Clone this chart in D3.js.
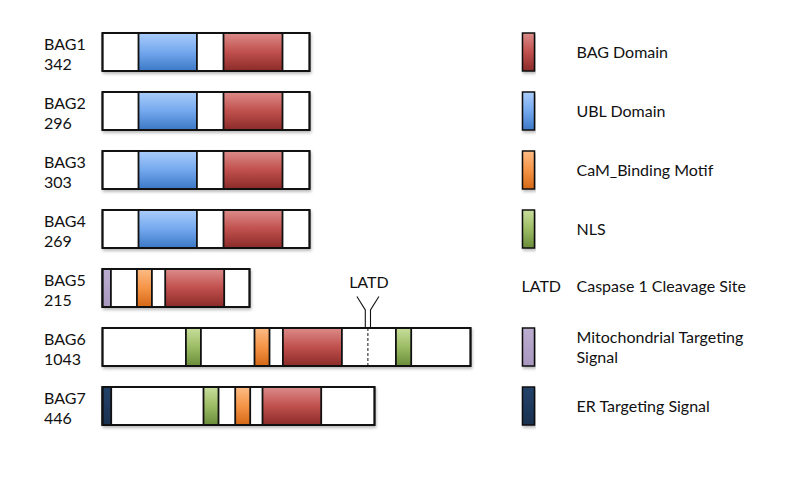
<!DOCTYPE html>
<html><head><meta charset="utf-8">
<script src="https://cdn.jsdelivr.net/npm/d3@7"></script>
<style>html,body{margin:0;padding:0;background:#fff;}svg{display:block;}text{font-family:Lato,"Open Sans",sans-serif;fill:#111;}</style>
</head><body>
<script>
// ---- data (schematic units along each protein bar) ----
const genes = ["BAG1","BAG2","BAG3","BAG4","BAG5","BAG6","BAG7"];
const aaLengths = [342, 296, 303, 269, 215, 1043, 446];
const barLengths = [207, 207, 207, 207, 147, 368, 272];
const bagDomain = [["BAG1",121,180],["BAG2",121,180],["BAG3",121,180],["BAG4",121,180],["BAG5",62.7,121.7],["BAG6",180.4,239.4],["BAG7",160,218.7]];
const ublDomain = [["BAG1",36,94.4],["BAG2",36,94.4],["BAG3",36,94.4],["BAG4",36,94.4]];
const camMotif = [["BAG5",34.4,49.4],["BAG6",152,167],["BAG7",132.7,147.7]];
const nlsMotif = [["BAG6",83.4,98.4],["BAG6",293.4,308.7],["BAG7",101,116]];
const mtsSignal = [["BAG5",0,8.4]];
const erSignal = [["BAG7",0,8.7]];
const caspaseSites = [["BAG6",265.4,"LATD"]];
const legendKeys = ["bag","ubl","cam","nls","latd","mts","er"];
const legendLabels = [["BAG Domain"],["UBL Domain"],["CaM_Binding Motif"],["NLS"],["Caspase 1 Cleavage Site"],["Mitochondrial Targeting","Signal"],["ER Targeting Signal"]];

const W = 800, H = 477;
const svg = d3.select("body").append("svg").attr("width", W).attr("height", H);
const defs = svg.append("defs");
const grads = {
  bag: ["#dc8c8a", "#c0504d", "#8a2b29"],
  ubl: ["#aacdfa", "#74a8ee", "#3b78c6"],
  cam: ["#fcbc86", "#f59446", "#d46816"],
  nls: ["#c8de9c", "#9cbc64", "#6a8c3a"],
  mts: ["#bcaed0", "#b2a2c8", "#a898c0"],
  er:  ["#24436a", "#1f3a5d", "#1a3150"]
};
Object.entries(grads).forEach(([k, c]) => {
  const g = defs.append("linearGradient").attr("id", "g-" + k).attr("x1", 0).attr("y1", 0).attr("x2", 0).attr("y2", 1);
  g.append("stop").attr("offset", "0%").attr("stop-color", c[0]);
  g.append("stop").attr("offset", "50%").attr("stop-color", c[1]);
  g.append("stop").attr("offset", "100%").attr("stop-color", c[2]);
});
const f = defs.append("filter").attr("id", "shadow").attr("x", "-5%").attr("y", "-20%").attr("width", "115%").attr("height", "160%");
f.append("feDropShadow").attr("dx", 1).attr("dy", 2).attr("stdDeviation", 1.5).attr("flood-color", "#000").attr("flood-opacity", 0.28);

const x = d3.scaleLinear().domain([0, 368]).range([102.5, 470.5]);
const y = d3.scalePoint().domain(genes).range([52, 406]);
const barH = 38;

// bars
const rows = svg.append("g");
rows.selectAll("rect.bar").data(genes).join("rect").attr("class", "bar")
  .attr("x", x(0)).attr("y", d => y(d) - barH / 2)
  .attr("width", (d, i) => x(barLengths[i]) - x(0)).attr("height", barH)
  .attr("fill", "#fff").attr("stroke", "#111").attr("stroke-width", 1.8)
  .attr("filter", "url(#shadow)");

function drawDomains(data, key) {
  rows.selectAll(null).data(data).join("rect")
    .attr("x", d => x(d[1])).attr("y", d => y(d[0]) - barH / 2)
    .attr("width", d => x(d[2]) - x(d[1])).attr("height", barH)
    .attr("fill", `url(#g-${key})`).attr("stroke", "#111").attr("stroke-width", 1.8);
}
drawDomains(bagDomain, "bag");
drawDomains(ublDomain, "ubl");
drawDomains(camMotif, "cam");
drawDomains(nlsMotif, "nls");
drawDomains(mtsSignal, "mts");
drawDomains(erSignal, "er");

// outer outline again on top
rows.selectAll("rect.outline").data(genes).join("rect").attr("class", "outline")
  .attr("x", x(0)).attr("y", d => y(d) - barH / 2)
  .attr("width", (d, i) => x(barLengths[i]) - x(0)).attr("height", barH)
  .attr("fill", "none").attr("stroke", "#111").attr("stroke-width", 1.8);

// caspase site
caspaseSites.forEach(([g, pos, lab]) => {
  const cx = x(pos), top = y(g) - barH / 2;
  svg.append("line").attr("x1", cx).attr("x2", cx).attr("y1", top).attr("y2", top + barH)
    .attr("stroke", "#111").attr("stroke-width", 1).attr("stroke-dasharray", "3,2");
  const p1 = `M${cx - 11},${top - 31.5} L${cx - 2.6},${top - 18} L${cx - 2.6},${top}`;
  const p2 = `M${cx + 11},${top - 31.5} L${cx + 2.6},${top - 18} L${cx + 2.6},${top}`;
  svg.append("path").attr("d", p1).attr("fill", "none").attr("stroke", "#111").attr("stroke-width", 1.1);
  svg.append("path").attr("d", p2).attr("fill", "none").attr("stroke", "#111").attr("stroke-width", 1.1);
  svg.append("text").attr("x", cx + 1).attr("y", top - 40.5).attr("text-anchor", "middle")
    .attr("font-size", 16).text(lab);
});

// left labels
const lab = svg.append("g");
genes.forEach((g, i) => {
  const t = lab.append("text").attr("x", 44).attr("y", y(g) - 2.5).attr("font-size", 16);
  t.append("tspan").attr("x", 44).text(g);
  t.append("tspan").attr("x", 44).attr("dy", 20.5).text(aaLengths[i]);
});

// legend
const leg = svg.append("g");
legendKeys.forEach((k, i) => {
  const cy = y(genes[i]);
  if (k === "latd") {
    leg.append("text").attr("x", 521.5).attr("y", cy + 4).attr("font-size", 16).text("LATD");
  } else {
    leg.append("rect").attr("x", 522.5).attr("y", cy - barH / 2).attr("width", 12).attr("height", barH)
      .attr("fill", `url(#g-${k})`).attr("stroke", "#111").attr("stroke-width", 1.5)
      .attr("filter", "url(#shadow)");
  }
  const lines = legendLabels[i];
  const t = leg.append("text").attr("font-size", 16)
    .attr("y", cy + 6 - (lines.length - 1) * 10 + (k === "latd" ? -2 : 0));
  lines.forEach((s, j) => t.append("tspan").attr("x", 576.5).attr("dy", j ? 20 : 0).text(s));
});
</script>
</body></html>
